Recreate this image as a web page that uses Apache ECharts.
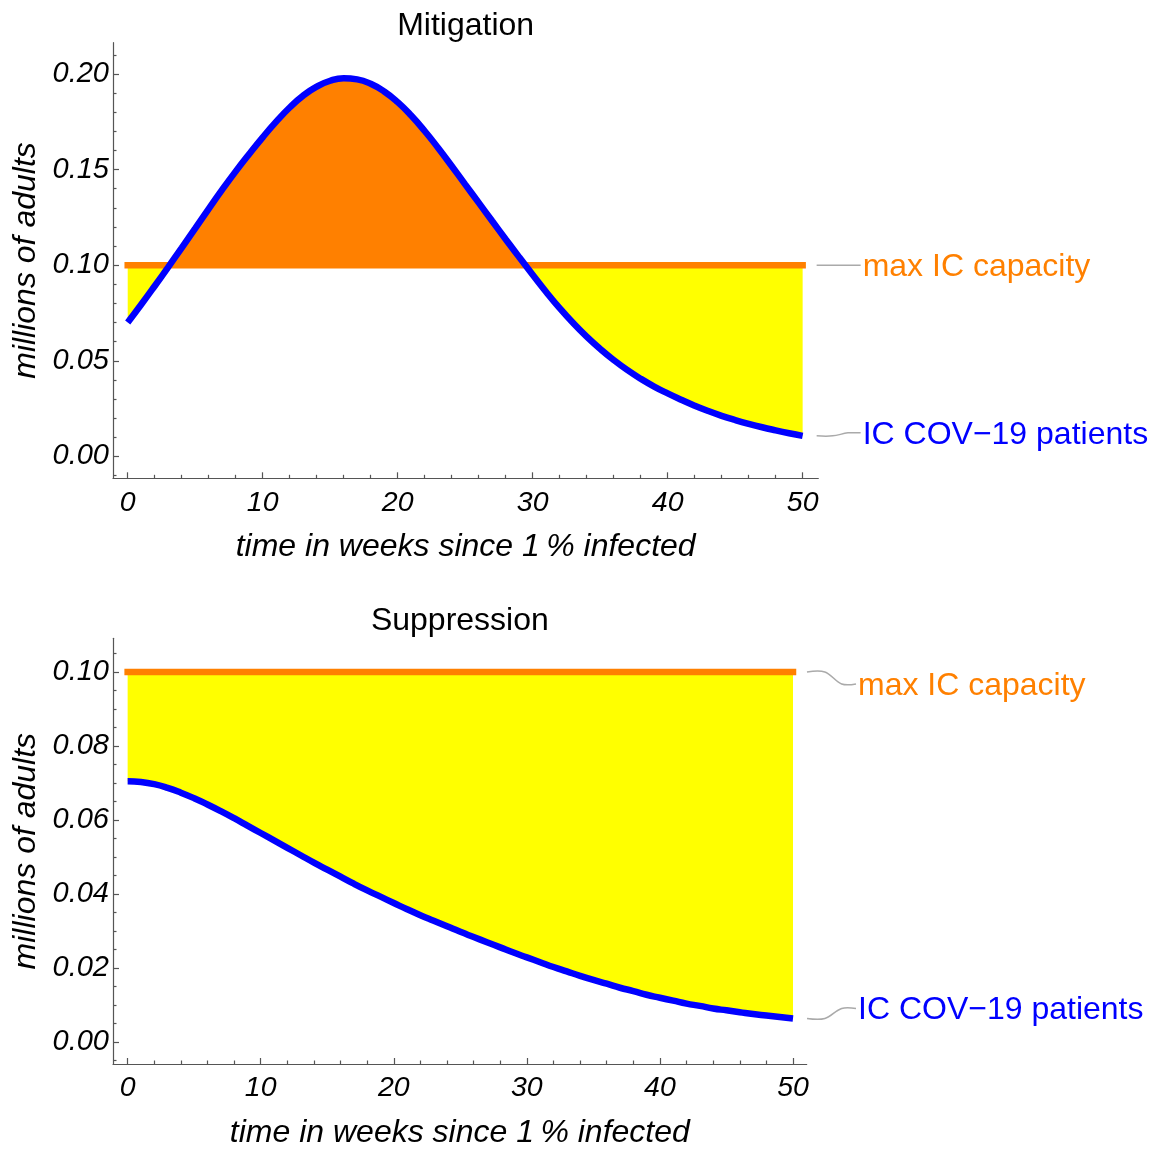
<!DOCTYPE html>
<html><head><meta charset="utf-8">
<script src="https://cdn.jsdelivr.net/npm/echarts@6/dist/echarts.min.js"></script>
<style>html,body{margin:0;padding:0;background:#fff}#c{width:1157px;height:1150px}</style>
</head><body><div id="c"></div>
<script>
// ---------- data ----------
const weeks = [0,1,2,3,4,5,6,7,8,9,10,11,12,13,14,15,16,17,18,19,20,21,22,23,24,25,26,27,28,29,30,31,32,33,34,35,36,37,38,39,40,41,42,43,44,45,46,47,48,49,50];
const mitigation = [0.0700,0.0794,0.0891,0.0990,0.1091,0.1193,0.1295,0.1395,0.1491,0.1582,0.1669,0.1751,0.1825,0.1887,0.1934,0.1965,0.1978,0.1972,0.1949,0.1909,0.1853,0.1783,0.1702,0.1613,0.1519,0.1423,0.1327,0.1231,0.1136,0.1042,0.0950,0.0860,0.0775,0.0697,0.0626,0.0562,0.0504,0.0452,0.0406,0.0365,0.0329,0.0296,0.0265,0.0237,0.0212,0.0190,0.0170,0.0152,0.0136,0.0121,0.0107];
const suppression = [0.0705,0.0703,0.0697,0.0687,0.0674,0.0659,0.0642,0.0624,0.0605,0.0585,0.0565,0.0545,0.0525,0.0505,0.0485,0.0466,0.0447,0.0428,0.0410,0.0393,0.0376,0.0359,0.0343,0.0328,0.0313,0.0298,0.0284,0.0270,0.0256,0.0242,0.0229,0.0216,0.0203,0.0191,0.0179,0.0168,0.0158,0.0147,0.0138,0.0128,0.0120,0.0112,0.0104,0.0098,0.0091,0.0086,0.0081,0.0076,0.0072,0.0068,0.0064];
const capacity = 0.10;
const titles = ['Mitigation', 'Suppression'];
const xName = 'time in weeks since 1\u2009% infected';
const yName = 'millions of adults';
const capacityLabel = 'max IC capacity';
const patientsLabel = 'IC COV\u221219 patients';
const xMajorTicks = [0,10,20,30,40,50];
const xMinorTicks = [2,4,6,8,12,14,16,18,22,24,26,28,32,34,36,38,42,44,46,48];
const yTopMajor = [0,0.05,0.10,0.15,0.20];
const yTopMinor = [-0.01,0.01,0.02,0.03,0.04,0.06,0.07,0.08,0.09,0.11,0.12,0.13,0.14,0.16,0.17,0.18,0.19,0.21];
const yBotMajor = [0,0.02,0.04,0.06,0.08,0.10];
const yBotMinor = [-0.005,0.005,0.01,0.015,0.025,0.03,0.035,0.045,0.05,0.055,0.065,0.07,0.075,0.085,0.09,0.095,0.105];

// ---------- style ----------
const fam = '"Liberation Sans", Arial, sans-serif';
const ORANGE = '#FF8000', YELLOW = '#FFFF00', BLUE = '#0000FF', AXIS = '#555555';
const pairs = arr => weeks.map((w, i) => [w, arr[i]]);
const capLine = [[weeks[0], capacity], [weeks[weeks.length - 1], capacity]];

const grids = [
  {left: 113, top: 42.7, width: 705.3, height: 435.6},
  {left: 113, top: 638.3, width: 693.7, height: 428.4}
];
const xr = [[-1.09, 51.16], [-1.10, 51.03]];
const yr = [[-0.0115, 0.2164], [-0.0059, 0.1091]];
const yMaj = [yTopMajor, yBotMajor], yMin = [yTopMinor, yBotMinor];

const xAxis = [], yAxis = [];
for (let g = 0; g < 2; g++) {
  xAxis.push({
    type: 'value', gridIndex: g, min: xr[g][0], max: xr[g][1], position: 'bottom',
    axisLine: {onZero: false, lineStyle: {color: AXIS, width: 1.2}},
    axisTick: {inside: true, length: 6, customValues: xMajorTicks, lineStyle: {color: AXIS, width: 1.2}},
    axisLabel: {customValues: xMajorTicks, fontSize: 28.5, fontStyle: 'italic', fontFamily: fam, color: '#000', margin: 10},
    splitLine: {show: false},
    name: xName, nameLocation: 'middle', nameGap: 53,
    nameTextStyle: {fontSize: 32, fontStyle: 'italic', fontFamily: fam, color: '#000'}
  });
  xAxis.push({
    type: 'value', gridIndex: g, min: xr[g][0], max: xr[g][1], position: 'bottom',
    axisLine: {show: false, onZero: false},
    axisTick: {inside: true, length: 3.5, customValues: xMinorTicks, lineStyle: {color: AXIS, width: 1.2}},
    axisLabel: {show: false}, splitLine: {show: false}
  });
  yAxis.push({
    type: 'value', gridIndex: g, min: yr[g][0], max: yr[g][1], position: 'left',
    axisLine: {show: true, onZero: false, lineStyle: {color: AXIS, width: 1.2}},
    axisTick: {show: true, inside: true, length: 6, customValues: yMaj[g], lineStyle: {color: AXIS, width: 1.2}},
    axisLabel: {customValues: yMaj[g], fontSize: 29, fontStyle: 'italic', fontFamily: fam, color: '#000', margin: 4,
                formatter: v => Math.abs(v).toFixed(2)},
    splitLine: {show: false},
    name: yName, nameLocation: 'middle', nameGap: 66,
    nameTextStyle: {fontSize: 32, fontStyle: 'italic', fontFamily: fam, color: '#000'}
  });
  yAxis.push({
    type: 'value', gridIndex: g, min: yr[g][0], max: yr[g][1], position: 'left',
    axisLine: {show: false, onZero: false},
    axisTick: {show: true, inside: true, length: 3.5, customValues: yMin[g], lineStyle: {color: AXIS, width: 1.2}},
    axisLabel: {show: false}, splitLine: {show: false}
  });
}

const series = [];
const curves = [mitigation, suppression];
for (let g = 0; g < 2; g++) {
  const xi = g * 2, yi = g * 2;
  const fill = {
    type: 'line', xAxisIndex: xi, yAxisIndex: yi, data: pairs(curves[g]), smooth: 0.5,
    showSymbol: false, silent: true, z: 1,
    lineStyle: {width: 0, opacity: 0},
    areaStyle: {origin: capacity, opacity: 1}
  };
  if (g === 1) { fill.areaStyle.color = YELLOW; fill.itemStyle = {color: YELLOW}; }
  series.push(fill);
  series.push({
    type: 'line', xAxisIndex: xi, yAxisIndex: yi, data: capLine, showSymbol: false, silent: true, z: 2,
    lineStyle: {width: 6.5, color: ORANGE, cap: 'square'}, itemStyle: {color: ORANGE}
  });
  series.push({
    type: 'line', xAxisIndex: xi, yAxisIndex: yi, data: pairs(curves[g]), smooth: 0.5, showSymbol: false, silent: true, z: 3,
    lineStyle: {width: 6.5, color: BLUE, cap: 'butt'}, itemStyle: {color: BLUE}
  });
}

const option = {
  animation: false,
  backgroundColor: '#fff',
  title: [
    {text: titles[0], left: grids[0].left + grids[0].width / 2, top: 10, textAlign: 'center', padding: 0,
     textStyle: {fontSize: 32, fontWeight: 'normal', fontFamily: fam, color: '#000'}},
    {text: titles[1], left: grids[1].left + grids[1].width / 2, top: 605, textAlign: 'center', padding: 0,
     textStyle: {fontSize: 32, fontWeight: 'normal', fontFamily: fam, color: '#000'}}
  ],
  grid: grids,
  xAxis, yAxis,
  visualMap: [{
    type: 'piecewise', show: false, seriesIndex: 0, dimension: 1,
    pieces: [{gte: -1, lt: capacity, color: YELLOW}, {gte: capacity, lte: 1, color: ORANGE}]
  }],
  series
};

const chart = echarts.init(document.getElementById('c'), null, {renderer: 'canvas'});
chart.setOption(option);

// callout labels, positioned from the data through the chart's own scales
function callout(g, value, dy, text, color, len) {
  const last = weeks[weeks.length - 1];
  const [px, py] = chart.convertToPixel({gridIndex: g}, [last, value]);
  const x0 = px + 14, ty = py + dy;
  const a = len * 0.35, b = len * 0.68;
  return [
    {type: 'polyline', silent: true,
     shape: {points: [[x0, py], [x0 + a, py], [x0 + b, ty], [x0 + len - 2, ty]], smooth: 0.35},
     style: {stroke: '#aaaaaa', lineWidth: 1.5, fill: null}},
    {type: 'text', silent: true, x: x0 + len, y: ty + 2,
     style: {text, fill: color, fontSize: 32, fontFamily: fam,
             align: 'left', verticalAlign: 'middle', textAlign: 'left', textVerticalAlign: 'middle'}}
  ];
}
const els = [].concat(
  callout(0, capacity, 0, capacityLabel, ORANGE, 46),
  callout(0, mitigation[mitigation.length - 1], -3, patientsLabel, BLUE, 46),
  callout(1, capacity, 12, capacityLabel, ORANGE, 51),
  callout(1, suppression[suppression.length - 1], -10, patientsLabel, BLUE, 51)
);
chart.setOption({graphic: {elements: els}});
</script>
</body></html>
